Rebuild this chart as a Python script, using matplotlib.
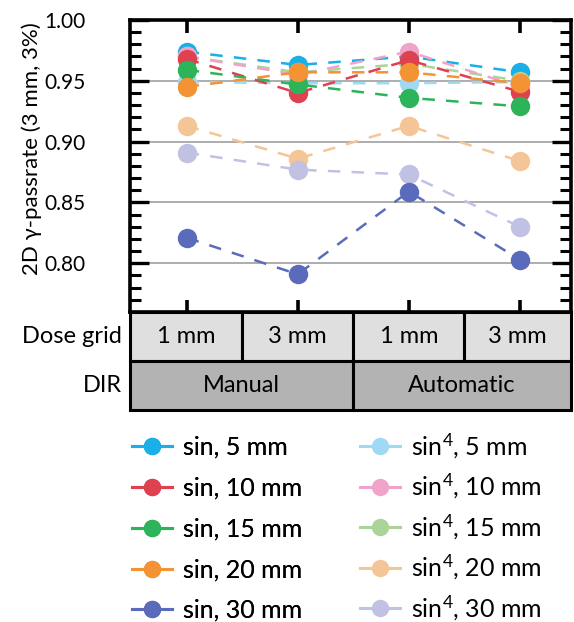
import matplotlib.pyplot as plt
from matplotlib.lines import Line2D
from matplotlib.patches import Rectangle
from matplotlib.ticker import MultipleLocator

plt.rcParams['font.family'] = ['Lato', 'DejaVu Sans']
plt.rcParams['mathtext.fontset'] = 'custom'
plt.rcParams['mathtext.rm'] = 'Lato'
plt.rcParams['mathtext.default'] = 'regular'

# categories (x positions 0..3)
dose_grid = ['1 mm', '3 mm', '1 mm', '3 mm']
dir_groups = ['Manual', 'Automatic']

labels = ['sin, 5 mm', 'sin, 10 mm', 'sin, 15 mm', 'sin, 20 mm', 'sin, 30 mm',
          'sin$^4$, 5 mm', 'sin$^4$, 10 mm', 'sin$^4$, 15 mm', 'sin$^4$, 20 mm', 'sin$^4$, 30 mm']
colors = ['#1AAFE6', '#DE4150', '#2DB35A', '#F39334', '#5A6BBB',
          '#9FD9F4', '#F1A4C9', '#AAD498', '#F4C596', '#C0C1E3']

sin_5 = [0.974, 0.963, 0.970, 0.957]
sin_10 = [0.968, 0.940, 0.967, 0.941]
sin_15 = [0.959, 0.947, 0.936, 0.929]
sin_20 = [0.945, 0.957, 0.957, 0.948]
sin_30 = [0.821, 0.791, 0.859, 0.803]
sin4_5 = [0.949, 0.948, 0.948, 0.949]
sin4_10 = [0.970, 0.955, 0.974, 0.945]
sin4_15 = [0.970, 0.957, 0.964, 0.950]
sin4_20 = [0.913, 0.886, 0.913, 0.884]
sin4_30 = [0.891, 0.877, 0.873, 0.830]

series = [sin_5, sin_10, sin_15, sin_20, sin_30,
          sin4_5, sin4_10, sin4_15, sin4_20, sin4_30]
draw_order = [5, 0, 7, 6, 1, 2, 3, 8, 9, 4]

fig = plt.figure(figsize=(5.74, 6.22), dpi=100)
ax = fig.add_axes([0.2265, 0.4984, 0.7683, 0.4695])

x = list(range(len(dose_grid)))
for i in draw_order:
    ax.plot(x, series[i], color=colors[i], ls=(0, (5, 4.5)), lw=1.8,
            marker='o', ms=14, mew=0, zorder=3)

ax.set_xlim(-0.51, 3.46)
ax.set_ylim(0.76, 1.0)
ax.yaxis.set_major_locator(MultipleLocator(0.05))
ax.yaxis.set_minor_locator(MultipleLocator(0.01))
ax.yaxis.set_major_formatter(plt.FormatStrFormatter('%.2f'))
ax.set_xticks(x)
ax.set_xticklabels([])
ax.tick_params(which='both', direction='in', top=True, right=True, labelsize=15)
ax.tick_params(axis='y', which='major', length=14, width=2.4, pad=32)
ax.tick_params(axis='y', which='minor', length=8, width=2.2)
ax.tick_params(axis='x', which='major', length=9, width=2.6)
for yv in [0.80, 0.85, 0.90, 0.95]:
    ax.axhline(yv, color='#A0A0A0', lw=1.2, zorder=1)
for s in ax.spines.values():
    s.set_linewidth(2.6)
ax.set_ylabel('2D γ-passrate (3 mm, 3%)', fontsize=16)
ax.yaxis.set_label_coords(-0.2, 0.558)

# category table under the axes
tab = fig.add_axes([0.2265, 0.3408, 0.7683, 0.1576])
tab.set_xlim(ax.get_xlim())
tab.set_ylim(0, 2)
tab.axis('off')
x0, x1 = ax.get_xlim()
edges = [x0, 0.5, 1.5, 2.5, x1]
for k, lab in enumerate(dose_grid):
    tab.add_patch(Rectangle((edges[k], 1.0), edges[k + 1] - edges[k], 1.0,
                            facecolor='#DFDFDF', edgecolor='black', lw=2.2, clip_on=False))
    tab.text((edges[k] + edges[k + 1]) / 2, 1.5, lab, ha='center', va='center', fontsize=17)
grp_edges = [x0, 1.5, x1]
for k, lab in enumerate(dir_groups):
    tab.add_patch(Rectangle((grp_edges[k], 0), grp_edges[k + 1] - grp_edges[k], 1.0,
                            facecolor='#B3B3B3', edgecolor='black', lw=2.2, clip_on=False))
    tab.text((grp_edges[k] + grp_edges[k + 1]) / 2, 0.5, lab, ha='center', va='center', fontsize=17)
tab.text(x0 - 0.07, 1.5, 'Dose grid', ha='right', va='center', fontsize=17)
tab.text(x0 - 0.07, 0.5, 'DIR', ha='right', va='center', fontsize=17)

# legend, one block per column
handles = [Line2D([], [], color=c, lw=2.2, marker='o', ms=12.5, mew=0) for c in colors]
leg_kw = dict(loc='upper left', frameon=False, fontsize=18, handlelength=1.6,
              handletextpad=0.45, borderpad=0, borderaxespad=0)
leg1 = fig.legend(handles[:5], labels[:5], bbox_to_anchor=(0.23, 0.299),
                  labelspacing=0.71, **leg_kw)
fig.add_artist(leg1)
fig.legend(handles[5:], labels[5:], bbox_to_anchor=(0.627, 0.3065),
           labelspacing=0.445, **leg_kw)

fig.savefig('out.png', dpi=100)
